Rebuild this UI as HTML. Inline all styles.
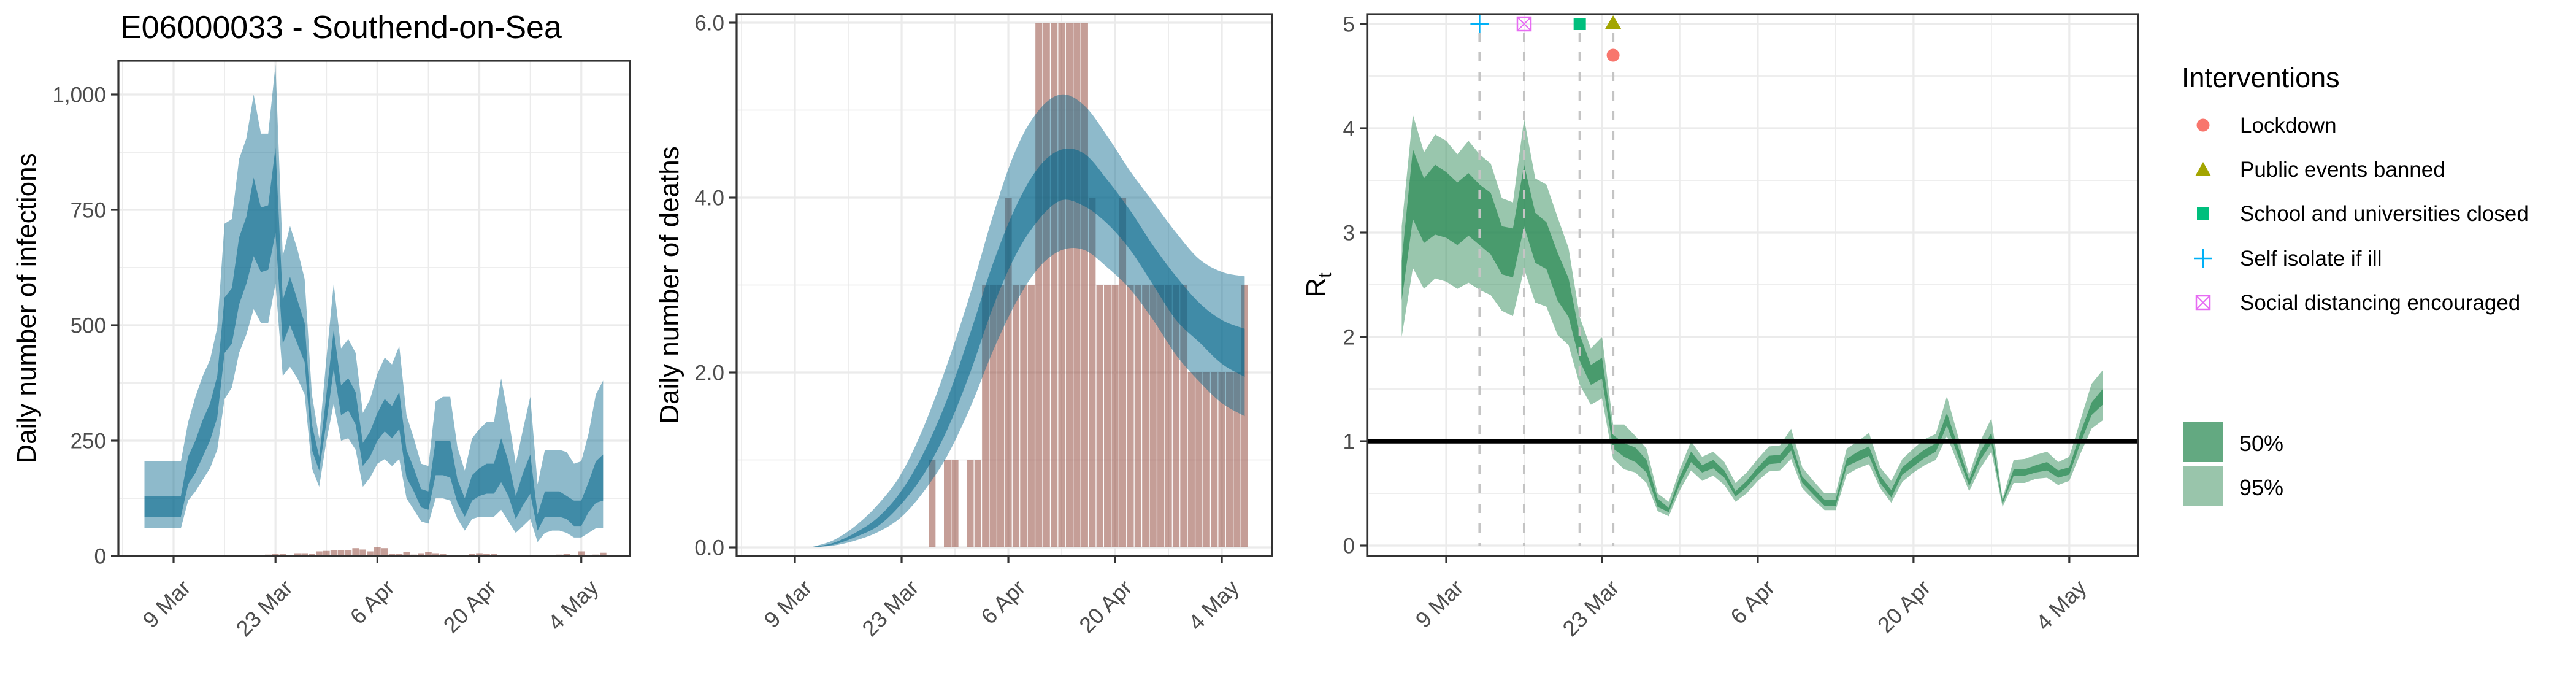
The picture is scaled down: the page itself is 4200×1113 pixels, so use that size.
<!DOCTYPE html>
<html><head><meta charset="utf-8">
<style>
html,body{margin:0;padding:0;background:#fff;}
svg{display:block;font-family:"Liberation Sans",Arial,sans-serif;}
</style></head>
<body>
<svg id="chart" width="4200" height="1113" viewBox="0 0 4200 1113" xmlns="http://www.w3.org/2000/svg">
<rect x="0" y="0" width="4200" height="1113" fill="#fff"/>
<text x="196" y="62" font-size="52" fill="#000">E06000033 - Southend-on-Sea</text>
<g id="p1"></g>
<g id="p2"></g>
<g id="p3"></g>
<g id="legend">
  <text x="3557" y="142" font-size="45" fill="#000">Interventions</text>
  <g>
    <circle cx="3592" cy="204" r="10.5" fill="#f8766d"/>
    <text x="3652" y="216" font-size="35" fill="#000">Lockdown</text></g>
  <g>
    <polygon points="3579,287 3605,287 3592,264" fill="#a3a500"/>
    <text x="3652" y="288" font-size="35" fill="#000">Public events banned</text></g>
  <g>
    <rect x="3582" y="338" width="20" height="20" fill="#00bf7d"/>
    <text x="3652" y="360" font-size="35" fill="#000">School and universities closed</text></g>
  <g>
    <path d="M3577 421 H3607 M3592 406 V436" stroke="#00b0f6" stroke-width="2.5" fill="none"/>
    <text x="3652" y="433" font-size="35" fill="#000">Self isolate if ill</text></g>
  <g>
    <rect x="3581" y="482" width="22" height="22" fill="none" stroke="#e76bf3" stroke-width="2.5"/>
    <path d="M3581 482 L3603 504 M3603 482 L3581 504" stroke="#e76bf3" stroke-width="2"/>
    <text x="3652" y="505" font-size="35" fill="#000">Social distancing encouraged</text></g>
  <g>
    <rect x="3559" y="687" width="66" height="66" fill="#63a981"/>
    <text x="3651" y="735" font-size="36" fill="#000">50%</text></g>
  <g>
    <rect x="3559" y="759" width="66" height="66" fill="#99c5ab"/>
    <text x="3651" y="807" font-size="36" fill="#000">95%</text></g>
</g>
</svg>
<script>
// ---------- data (days relative to 9 Mar) ----------
const tickDays = [0,14,28,42,56];
const tickDates = ["9 Mar","23 Mar","6 Apr","20 Apr","4 May"];
const minorDays = [-7,7,21,35,49,63];

const infDays = [-4,-3,-2,-1,0,1,2,3,4,5,6,7,8,9,10,11,12,13,14,15,16,17,18,19,20,21,22,23,24,25,26,27,28,29,30,31,32,33,34,35,36,37,38,39,40,41,42,43,44,45,46,47,48,49,50,51,52,53,54,55,56,57,58,59];
const infU95 = [205,205,205,205,205,205,290,345,390,425,495,720,730,860,905,1000,915,915,1065,650,715,665,600,350,255,430,590,450,470,440,310,340,395,430,415,455,305,255,200,195,335,345,345,235,185,255,275,290,290,385,300,200,275,345,155,230,230,230,225,200,205,265,350,380];
const infU50 = [130,130,130,130,130,130,215,250,295,330,390,560,580,690,735,820,755,760,885,555,605,555,505,285,215,350,490,370,385,355,245,270,310,340,325,355,230,190,145,140,250,250,250,165,125,175,190,200,200,255,205,130,180,220,90,140,140,140,130,120,120,160,205,220];
const infL50 = [85,85,85,85,85,85,155,180,215,250,300,440,460,545,590,650,615,620,700,460,500,460,420,230,185,290,405,305,315,285,195,215,250,270,255,275,170,140,105,100,175,175,170,115,85,120,130,135,135,160,130,80,110,135,55,85,85,85,80,65,65,95,115,120];
const infL95 = [60,60,60,60,60,60,120,140,165,190,230,340,365,440,480,535,505,505,590,390,410,385,350,190,150,250,330,250,255,230,150,170,200,210,195,210,125,100,75,70,125,125,120,80,55,80,85,85,85,100,75,50,65,80,30,50,55,55,50,40,40,50,60,60];
const caseDays = [13,14,15,17,18,19,20,21,22,23,24,25,26,27,28,29,30,31,32,33,34,35,36,37,38,40,41,42,43,44,45,46,47,48,50,51,52,53,54,55,56,57,58,59];
const caseVals = [3,5,5,6,6,5,10,11,13,13,12,17,14,10,19,17,5,5,8,3,6,8,6,4,2,1,4,6,5,4,2,2,2,1,1,2,2,3,5,2,10,2,3,7];

const deathDays = [18,20,21,23,24,25,26,27,28,29,30,31,32,33,34,35,36,37,38,39,40,41,42,43,44,45,46,47,48,49,50,51,52,53,54,55,56,57,58,59];
const deathVals = [1,1,1,1,1,3,3,3,4,3,3,3,6,6,6,6,6,6,6,4,3,3,3,4,3,3,3,3,3,3,3,3,2,2,2,2,2,2,2,3];
const dcDays = [2,5,8,11,14,17,20,23,26,29,32,35,38,41,44,47,50,53,56,59];
const dcU95 = [0,0.08,0.25,0.5,0.85,1.4,2.1,2.9,3.8,4.55,5.0,5.18,5.05,4.7,4.3,3.95,3.6,3.3,3.15,3.1];
const dcU50 = [0,0.05,0.17,0.35,0.65,1.1,1.7,2.45,3.25,3.9,4.35,4.55,4.5,4.2,3.85,3.45,3.1,2.8,2.6,2.5];
const dcL50 = [0,0.03,0.12,0.25,0.5,0.85,1.35,2.0,2.75,3.35,3.75,3.97,3.9,3.7,3.4,3.0,2.6,2.35,2.1,1.95];
const dcL95 = [0,0.02,0.08,0.18,0.35,0.65,1.05,1.6,2.25,2.8,3.2,3.4,3.4,3.2,2.95,2.6,2.2,1.9,1.65,1.5];

const rtDays = infDays;
const rtU95 = [3.06,4.13,3.77,3.94,3.88,3.75,3.88,3.75,3.66,3.33,3.29,4.09,3.52,3.46,3.15,2.85,2.19,1.89,2.0,1.16,1.16,1.05,0.93,0.5,0.42,0.73,1.0,0.85,0.9,0.8,0.6,0.7,0.83,0.95,0.96,1.12,0.75,0.62,0.5,0.5,0.93,1.0,1.08,0.75,0.62,0.83,0.93,1.02,1.07,1.43,1.05,0.68,1.0,1.22,0.45,0.82,0.83,0.87,0.9,0.8,0.85,1.2,1.55,1.68];
const rtU50 = [2.73,3.8,3.52,3.65,3.58,3.48,3.57,3.46,3.38,3.06,3.04,3.65,3.19,3.1,2.81,2.56,2.02,1.73,1.8,1.06,0.98,0.94,0.82,0.45,0.36,0.66,0.9,0.77,0.82,0.72,0.52,0.62,0.75,0.86,0.87,1.0,0.66,0.55,0.44,0.44,0.83,0.9,0.95,0.67,0.53,0.75,0.84,0.92,0.98,1.27,0.95,0.63,0.9,1.08,0.43,0.73,0.73,0.77,0.8,0.72,0.75,1.08,1.37,1.5];
const rtL50 = [2.35,3.13,2.9,2.98,2.95,2.88,2.97,2.88,2.79,2.6,2.57,3.06,2.71,2.65,2.35,2.19,1.77,1.54,1.6,0.93,0.85,0.8,0.7,0.37,0.32,0.59,0.8,0.7,0.74,0.65,0.47,0.56,0.68,0.78,0.79,0.91,0.6,0.49,0.38,0.38,0.76,0.81,0.86,0.6,0.46,0.68,0.76,0.84,0.9,1.15,0.86,0.57,0.82,0.98,0.4,0.67,0.67,0.7,0.72,0.65,0.68,0.98,1.25,1.35];
const rtL95 = [2.0,2.66,2.46,2.56,2.53,2.46,2.52,2.45,2.4,2.25,2.2,2.65,2.33,2.29,2.02,1.92,1.54,1.35,1.41,0.83,0.73,0.7,0.6,0.33,0.28,0.53,0.72,0.62,0.67,0.58,0.42,0.5,0.62,0.71,0.72,0.83,0.55,0.44,0.34,0.34,0.68,0.74,0.78,0.55,0.41,0.61,0.7,0.77,0.82,1.05,0.78,0.52,0.74,0.9,0.37,0.6,0.6,0.64,0.65,0.58,0.62,0.88,1.12,1.2];

const intNames = ["self-isolate","social-distancing","schools-closed","public-events-banned","lockdown"];
const intDays = [3,7,12,15,15];
const intY = [5,5,5,5,4.7];

// ---------- helpers ----------
const NS = "http://www.w3.org/2000/svg";
function mk(tag, attrs, parent){const e=document.createElementNS(NS,tag);for(const k in attrs)e.setAttribute(k,attrs[k]);parent.appendChild(e);return e;}

function panel(g, cfg){
  const {L,R,T,B,x0,xpd,y0,ypu} = cfg;
  const sx = d => x0 + d*xpd;
  const sy = v => y0 - v*ypu;
  mk('rect',{x:L,y:T,width:R-L,height:B-T,fill:'#fff'},g);
  const grid = mk('g',{},g);
  
  
  cfg.yMinor.forEach(v=>{const y=sy(v); if(y>T&&y<B) mk('line',{x1:L,x2:R,y1:y,y2:y,stroke:'#ebebeb','stroke-width':1.7},grid);});
  minorDays.forEach(d=>{const x=sx(d); if(x>L&&x<R) mk('line',{x1:x,x2:x,y1:T,y2:B,stroke:'#ebebeb','stroke-width':1.7},grid);});
  cfg.yTicks.forEach(v=>{const y=sy(v); mk('line',{x1:L,x2:R,y1:y,y2:y,stroke:'#ebebeb','stroke-width':3.2},grid);});
  tickDays.forEach(d=>{const x=sx(d); mk('line',{x1:x,x2:x,y1:T,y2:B,stroke:'#ebebeb','stroke-width':3.2},grid);});
  cfg.yTicks.forEach((v,i)=>{const y=sy(v);
    mk('line',{x1:L-12,x2:L,y1:y,y2:y,stroke:'#333','stroke-width':3.2},g);
    const t=mk('text',{x:L-20,y:y+12.5,'text-anchor':'end','font-size':35,fill:'#4d4d4d'},g);
    
    
    t.textContent=cfg.yLabels[i];});
  tickDays.forEach((d,i)=>{const x=sx(d);
    mk('line',{x1:x,x2:x,y1:B,y2:B+12,stroke:'#333','stroke-width':3.2},g);
    const t=mk('text',{x:x+30,y:960,'text-anchor':'end','font-size':36,fill:'#4d4d4d',transform:`rotate(-45 ${x+30} 960)`},g);
    
    
    t.textContent=tickDates[i];});
  const cy=(T+B)/2;
  const at=mk('text',{x:cfg.titleX,y:cy,'text-anchor':'middle','font-size':44,fill:'#000',transform:`rotate(-90 ${cfg.titleX} ${cy})`},g);
  
  
  if(cfg.titleSub){at.textContent=cfg.title;const s=mk('tspan',{'font-size':30,dy:10},at);s.textContent=cfg.titleSub;}
  else at.textContent=cfg.title;
  return {sx,sy};
}
function border(g,cfg){
  const b=mk('rect',{x:cfg.L,y:cfg.T,width:cfg.R-cfg.L,height:cfg.B-cfg.T,fill:'none',stroke:'#333','stroke-width':3.2},g);
  
  
}
function ribbon(g, days, lo, hi, sx, sy, fill, op, name){
  let d='M'+days.map((dd,i)=>sx(dd).toFixed(1)+' '+sy(hi[i]).toFixed(1)).join(' L');
  for(let i=days.length-1;i>=0;i--) d+=' L'+sx(days[i]).toFixed(1)+' '+sy(lo[i]).toFixed(1);
  const p=mk('path',{d:d+'Z',fill:fill,'fill-opacity':op},g);
  
  
}
function smoothPts(days, vals, sx, sy){
  return days.map((d,i)=>[sx(d),sy(vals[i])]);
}
function catmull(P, start){
  let d=(start?'M':'L')+P[0][0].toFixed(1)+' '+P[0][1].toFixed(1);
  for(let i=0;i<P.length-1;i++){
    const p0=P[Math.max(i-1,0)],p1=P[i],p2=P[i+1],p3=P[Math.min(i+2,P.length-1)];
    const c1=[p1[0]+(p2[0]-p0[0])/6,p1[1]+(p2[1]-p0[1])/6];
    const c2=[p2[0]-(p3[0]-p1[0])/6,p2[1]-(p3[1]-p1[1])/6];
    d+=` C${c1[0].toFixed(1)} ${c1[1].toFixed(1)} ${c2[0].toFixed(1)} ${c2[1].toFixed(1)} ${p2[0].toFixed(1)} ${p2[1].toFixed(1)}`;
  }
  return d;
}
function smoothRibbon(g, days, lo, hi, sx, sy, fill, op, name){
  const up=smoothPts(days,hi,sx,sy);
  const dn=smoothPts(days,lo,sx,sy).reverse();
  const p=mk('path',{d:catmull(up,true)+' '+catmull(dn,false)+'Z',fill:fill,'fill-opacity':op},g);
  
  
}
function bars(g, days, vals, sx, sy, w, name){
  days.forEach((d,i)=>{
    const x=sx(d-w/2), x2=sx(d+w/2), y=sy(vals[i]), y0=sy(0);
    const r=mk('rect',{x:x,y:y,width:x2-x,height:y0-y,fill:'#8b3e2f','fill-opacity':0.5},g);
    
    
  });
}

// ---------- panel 1: infections ----------
const c1={L:193,R:1027,T:99,B:906,x0:283,xpd:11.87,y0:906,ypu:0.752,
  yTicks:[0,250,500,750,1000],yLabels:["0","250","500","750","1,000"],yMinor:[125,375,625,875,1125],
  titleX:58,title:"Daily number of infections"};
const g1=document.getElementById('p1');
const a1=panel(g1,c1);
bars(g1,caseDays,caseVals,a1.sx,a1.sy,0.9,'case-bar');
ribbon(g1,infDays,infL95,infU95,a1.sx,a1.sy,'#04668b',0.45,'infections-95-band');
ribbon(g1,infDays,infL50,infU50,a1.sx,a1.sy,'#04668b',0.56,'infections-50-band');
border(g1,c1);

// ---------- panel 2: deaths ----------
const c2={L:1201,R:2074,T:23,B:906,x0:1296,xpd:12.43,y0:892,ypu:142.5,
  yTicks:[0,2,4,6],yLabels:["0.0","2.0","4.0","6.0"],yMinor:[1,3,5],
  titleX:1106,title:"Daily number of deaths"};
const g2=document.getElementById('p2');
const a2=panel(g2,c2);
bars(g2,deathDays,deathVals,a2.sx,a2.sy,0.9,'death-bar');
smoothRibbon(g2,dcDays,dcL95,dcU95,a2.sx,a2.sy,'#04668b',0.45,'deaths-95-band');
smoothRibbon(g2,dcDays,dcL50,dcU50,a2.sx,a2.sy,'#04668b',0.56,'deaths-50-band');
border(g2,c2);

// ---------- panel 3: Rt ----------
const c3={L:2229,R:3486,T:23,B:906,x0:2358,xpd:18.14,y0:889,ypu:170,
  yTicks:[0,1,2,3,4,5],yLabels:["0","1","2","3","4","5"],yMinor:[0.5,1.5,2.5,3.5,4.5],
  titleX:2160,title:"R",titleSub:"t"};
const g3=document.getElementById('p3');
const a3=panel(g3,c3);
ribbon(g3,rtDays,rtL95,rtU95,a3.sx,a3.sy,'#2e8b57',0.49,'rt-95-band');
ribbon(g3,rtDays,rtL50,rtU50,a3.sx,a3.sy,'#2e8b57',0.746,'rt-50-band');
const hl=mk('line',{x1:c3.L,x2:c3.R,y1:a3.sy(1),y2:a3.sy(1),stroke:'#000','stroke-width':7.5},g3);


const intCols=['#00b0f6','#e76bf3','#00bf7d','#a3a500','#f8766d'];
intDays.forEach((d,i)=>{
  if(i<4){
    const l=mk('line',{x1:a3.sx(d),x2:a3.sx(d),y1:a3.sy(5)+14,y2:a3.sy(0),stroke:'#c4c4c4','stroke-width':4,'stroke-dasharray':'15 17'},g3);
    
    
  }
});
intDays.forEach((d,i)=>{
  const x=a3.sx(d), y=a3.sy(intY[i]), c=intCols[i];
  const m=mk('g',{},g3);
  
  
  if(i===0) mk('path',{d:`M${x-15} ${y} H${x+15} M${x} ${y-15} V${y+15}`,stroke:c,'stroke-width':2.5,fill:'none'},m);
  else if(i===1){mk('rect',{x:x-11,y:y-11,width:22,height:22,fill:'none',stroke:c,'stroke-width':2.5},m);
    mk('path',{d:`M${x-11} ${y-11} L${x+11} ${y+11} M${x+11} ${y-11} L${x-11} ${y+11}`,stroke:c,'stroke-width':2},m);}
  else if(i===2) mk('rect',{x:x-10,y:y-10,width:20,height:20,fill:c},m);
  else if(i===3) mk('polygon',{points:`${x-13},${y+8} ${x+13},${y+8} ${x},${y-14}`,fill:c},m);
  else mk('circle',{cx:x,cy:y,r:10.5,fill:c},m);
});
border(g3,c3);
</script>
</body></html>
